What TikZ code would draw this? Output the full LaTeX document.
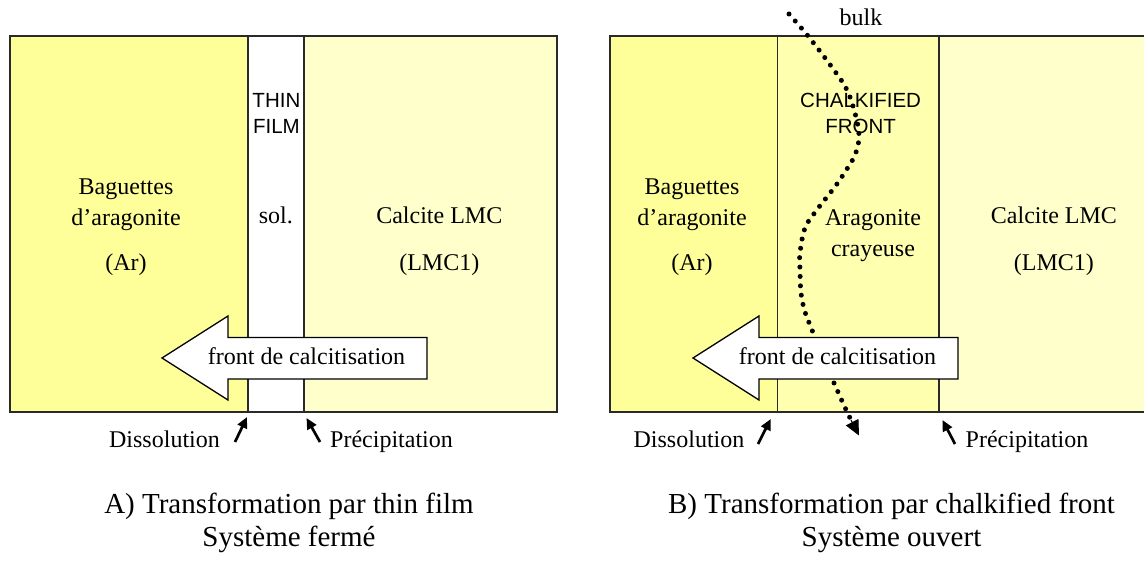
\documentclass[tikz,border=0pt]{standalone}
\usepackage{fontspec}
\setmainfont{Liberation Serif}
\newfontfamily\sansf{Liberation Sans}
\usetikzlibrary{arrows.meta}
\definecolor{arY}{HTML}{FFFF99}
\definecolor{chalkY}{HTML}{FFFFB0}
\definecolor{calY}{HTML}{FFFFCC}
\definecolor{frameC}{HTML}{2A2A2A}
\begin{document}
\begin{tikzpicture}[x=1pt,y=-1pt,
  lbl/.style={anchor=base,inner sep=0pt,font=\fontsize{24}{28}\selectfont},
  captxt/.style={anchor=base,inner sep=0pt,font=\fontsize{29}{33}\selectfont},
  sanslbl/.style={anchor=base,inner sep=0pt,font=\sansf\fontsize{20.5}{24}\selectfont},
  zone/.style={draw=frameC,line width=1.9pt},
  bigarrow/.style={draw=black,fill=white,line width=1.3pt,line join=miter},
  ptr/.style={-{Triangle[length=11pt,width=10pt]},line width=2.7pt,black},
  dots/.style={line width=5pt,line cap=round,dash pattern=on 0pt off 9.4pt}
]
\useasboundingbox (0,0) rectangle (1144,561);

% ---------- panel A ----------
\fill[arY] (10,36) rectangle (248,412);
\fill[white] (248,36) rectangle (304,412);
\fill[calY] (304,36) rectangle (557,412);
\draw[zone] (10,36) rectangle (557,412);
\draw[zone] (248,36) -- (248,412);
\draw[zone] (304,36) -- (304,412);

% ---------- panel B ----------
\fill[arY] (610,36) rectangle (777.5,412);
\fill[chalkY] (777.5,36) rectangle (939,412);
\fill[calY] (939,36) rectangle (1150,412);
\draw[zone] (610,36) rectangle (1150,412);
\draw[zone] (777.5,36) -- (777.5,412);
\draw[zone] (939,36) -- (939,412);

% dotted bulk path
\draw[dots] plot[smooth,tension=0.6] coordinates {(789,14) (808,36) (831,66) (847,90) (856,117) (859,137) (855,155) (845,172) (834,188) (816,211) (805,228) (800,253) (800,270) (801,293) (805,312) (812,330) (822,357) (834,383) (842,401) (850,418)};
\coordinate (dotEnd) at (851,420);
\coordinate (dotTip) at (859,435.5);
\draw[-{Triangle[length=15pt,width=14pt]},line width=1pt] (dotEnd) -- (dotTip);

% big arrows
\draw[bigarrow] (162,358) -- (228,316) -- (228,337.5) -- (427,337.5) -- (427,379) -- (228,379) -- (228,400) -- cycle;
\draw[bigarrow] (693,358) -- (759,316) -- (759,337.5) -- (958,337.5) -- (958,379) -- (759,379) -- (759,400) -- cycle;

% texts panel A
\node[lbl] (a1) at (126,195) {Baguettes};
\node[lbl] (a2) at (126,226) {d’aragonite};
\node[lbl] (a3) at (126,271) {(Ar)};
\node[sanslbl] (tf1) at (276.4,107.7) {THIN};
\node[sanslbl] (tf2) at (276.4,134) {FILM};
\node[lbl] (sol) at (275.8,224) {sol.};
\node[lbl] (c1) at (439.3,224) {Calcite LMC};
\node[lbl] (c2) at (439.3,271) {(LMC1)};
\node[lbl] (fa) at (306.5,364.5) {front de calcitisation};

% texts panel B
\node[lbl] (b1) at (692,195) {Baguettes};
\node[lbl] (b2) at (692,226) {d’aragonite};
\node[lbl] (b3) at (692,271) {(Ar)};
\node[sanslbl] (cf1) at (860.6,107.7) {CHALKIFIED};
\node[sanslbl] (cf2) at (860.6,134) {FRONT};
\node[lbl] (ag1) at (873,226) {Aragonite};
\node[lbl] (ag2) at (873,256.7) {crayeuse};
\node[lbl] (d1) at (1053.9,224) {Calcite LMC};
\node[lbl] (d2) at (1053.9,271) {(LMC1)};
\node[lbl] (fb) at (837.5,364.5) {front de calcitisation};
\node[lbl] (bulk) at (861,25.7) {bulk};

% bottom labels and pointers
\node[lbl] (dissA) at (164.5,447) {Dissolution};
\node[lbl] (precA) at (391.5,447) {Précipitation};
\node[lbl] (dissB) at (689,447) {Dissolution};
\node[lbl] (precB) at (1027,447) {Précipitation};
\coordinate (pA1s) at (235,442); \coordinate (pA1e) at (247,417);
\coordinate (pA2s) at (320,442); \coordinate (pA2e) at (306.5,418);
\coordinate (pB1s) at (758,444); \coordinate (pB1e) at (770.7,419);
\coordinate (pB2s) at (955,444); \coordinate (pB2e) at (942.5,420);
\draw[ptr] (pA1s) -- (pA1e);
\draw[ptr] (pA2s) -- (pA2e);
\draw[ptr] (pB1s) -- (pB1e);
\draw[ptr] (pB2s) -- (pB2e);

% captions
\node[captxt] (capA1) at (289,513) {A) Transformation par thin film};
\node[captxt] (capA2) at (289,546) {Système fermé};
\node[captxt] (capB1) at (891.5,513) {B) Transformation par chalkified front};
\node[captxt] (capB2) at (891.5,546) {Système ouvert};
\end{tikzpicture}
\end{document}
